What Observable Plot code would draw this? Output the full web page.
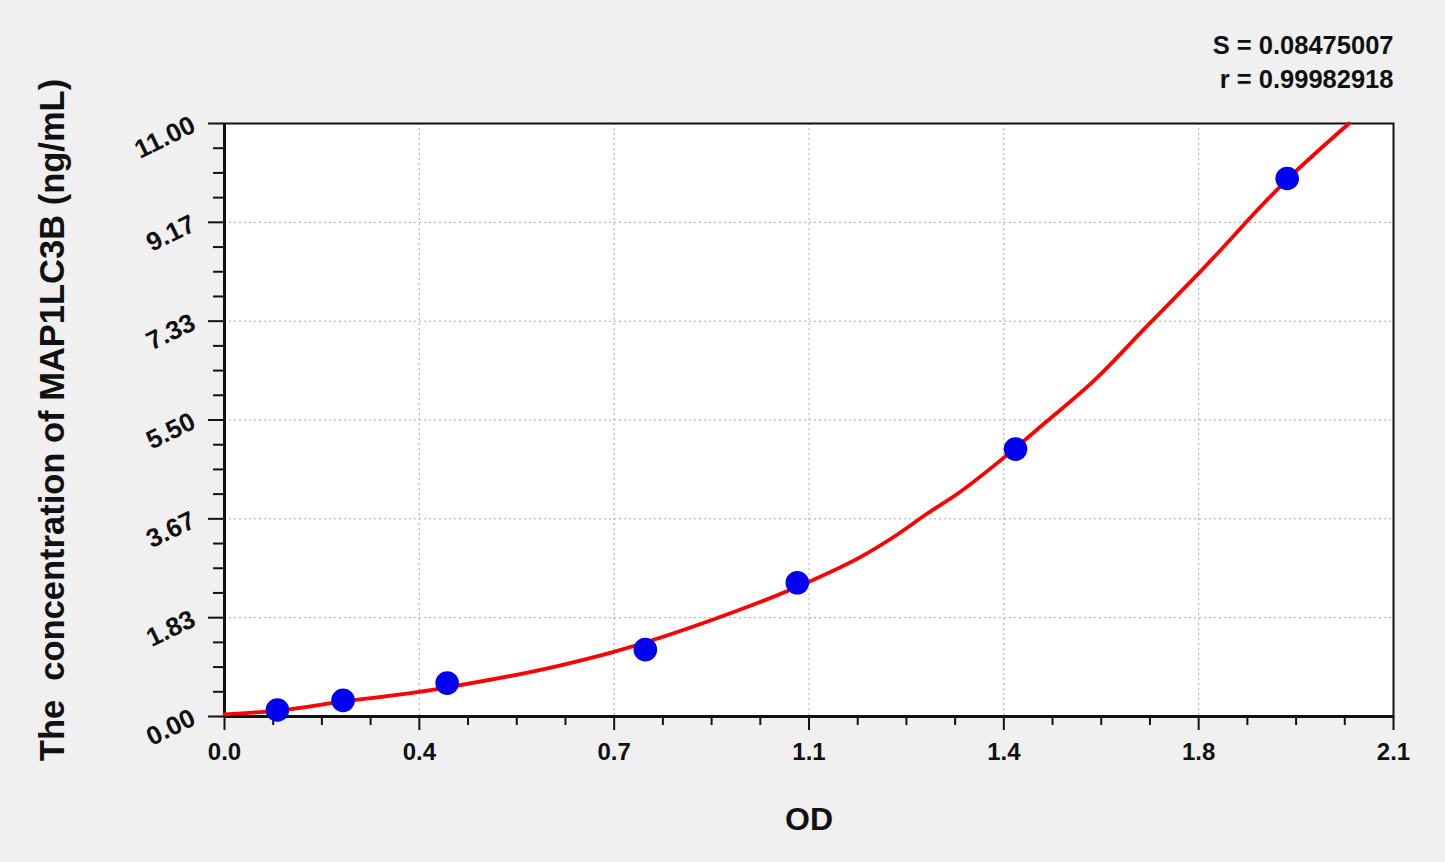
<!DOCTYPE html>
<html>
<head>
<meta charset="utf-8">
<script src="https://cdn.jsdelivr.net/npm/d3@7"></script>
<script src="https://cdn.jsdelivr.net/npm/@observablehq/plot@0.6"></script>
<style>
  html, body { margin: 0; padding: 0; background: #f0f0f0; }
  #chart svg { display: block; }
</style>
</head>
<body>
<div id="chart"></div>
<script>
// Standard points (OD vs concentration)
const pointOD   = [0.095, 0.213, 0.400, 0.756, 1.029, 1.421, 1.909];
const pointConc = [0.12, 0.30, 0.62, 1.24, 2.48, 4.96, 9.98];

// Fitted curve
const curveOD   = [0.000, 0.095, 0.214, 0.346, 0.400, 0.604, 0.696, 0.873, 1.048, 1.143, 1.202, 1.262, 1.322, 1.394, 1.472, 1.562, 1.658, 1.750, 1.909, 2.020];
const curveConc = [0.04, 0.11, 0.28, 0.45, 0.54, 0.95, 1.19, 1.78, 2.49, 2.96, 3.33, 3.76, 4.17, 4.75, 5.43, 6.23, 7.25, 8.22, 9.96, 11.00];

// Axis ticks
const xTickValues = [0, 0.35, 0.7, 1.05, 1.4, 1.75, 2.1];
const xTickLabels = ["0.0", "0.4", "0.7", "1.1", "1.4", "1.8", "2.1"];
const xMinorTicks = [0.0875, 0.175, 0.2625, 0.4375, 0.525, 0.6125, 0.7875, 0.875, 0.9625, 1.1375, 1.225, 1.3125, 1.4875, 1.575, 1.6625, 1.8375, 1.925, 2.0125];
const yTickValues = [0, 1.8333, 3.6667, 5.5, 7.3333, 9.1667, 11];
const yTickLabels = ["0.00", "1.83", "3.67", "5.50", "7.33", "9.17", "11.00"];
const yMinorTicks = [0.4583, 0.9167, 1.375, 2.2917, 2.75, 3.2083, 4.125, 4.5833, 5.0417, 5.9583, 6.4167, 6.875, 7.7917, 8.25, 8.7083, 9.625, 10.0833, 10.5417];

const statLines = ["S = 0.08475007", "r = 0.99982918"];
const xTitle = "OD";
const yTitle = "The  concentration of MAP1LC3B (ng/mL)";

const points = pointOD.map((x, i) => ({x, y: pointConc[i]}));
const curve = curveOD.map((x, i) => ({x, y: curveConc[i]}));

const font = "'Liberation Sans', Arial, sans-serif";

const plot = Plot.plot({
  width: 1445,
  height: 862,
  marginLeft: 224,
  marginRight: 52,
  marginTop: 123,
  marginBottom: 146,
  style: { background: "#f0f0f0", fontFamily: font, fontWeight: "bold", color: "#111" },
  x: { domain: [0, 2.1] },
  y: { domain: [0, 11] },
  marks: [
    Plot.frame({ fill: "white" }),
    Plot.gridX(xTickValues.slice(1, -1), { stroke: "#a8a8a8", strokeOpacity: 1, strokeDasharray: "2,3" }),
    Plot.gridY(yTickValues.slice(1, -1), { stroke: "#a8a8a8", strokeOpacity: 1, strokeDasharray: "2,3" }),
    Plot.frame({ stroke: "#111", strokeWidth: 2 }),
    Plot.ruleX([0], { stroke: "#111", strokeWidth: 3 }),
    Plot.ruleY([0], { stroke: "#111", strokeWidth: 3 }),
    // x axis ticks
    Plot.axisX(xTickValues, {
      tickSize: 14, strokeWidth: 2, tickPadding: 12, fontSize: 24, fontWeight: "bold",
      tickFormat: (d, i) => xTickLabels[i], label: null
    }),
    Plot.axisX(xMinorTicks, { tickSize: 9, strokeWidth: 2, text: null, label: null }),
    // y axis ticks
    Plot.axisY(yTickValues, {
      tickSize: 16, strokeWidth: 2, tickPadding: 15, fontSize: 26, fontWeight: "bold",
      tickRotate: -26, textAnchor: "end",
      tickFormat: (d, i) => yTickLabels[i], label: null
    }),
    Plot.axisY(yMinorTicks, { tickSize: 11, strokeWidth: 2, text: null, label: null }),
    // fitted curve
    Plot.line(curve, { x: "x", y: "y", stroke: "#ff0000", strokeWidth: 3.8, curve: "monotone-x" }),
    // standards
    Plot.dot(points, { x: "x", y: "y", r: 11.8, fill: "#0000f0", stroke: "none" }),
    // titles
    Plot.text([yTitle], { frameAnchor: "left", dx: -172, rotate: -90, textAnchor: "middle", fontSize: 34.5, fontWeight: "bold", fill: "#111" }),
    Plot.text([xTitle], { frameAnchor: "bottom", dy: 113, textAnchor: "middle", fontSize: 32, fontWeight: "bold", fill: "#111" }),
    Plot.text([statLines.join("\n")], { frameAnchor: "top-right", textAnchor: "end", lineAnchor: "bottom", dy: -36, lineHeight: 1.3, fontSize: 25.5, fontWeight: "bold", fill: "#111" })
  ]
});
document.getElementById("chart").appendChild(plot);
</script>
</body>
</html>
